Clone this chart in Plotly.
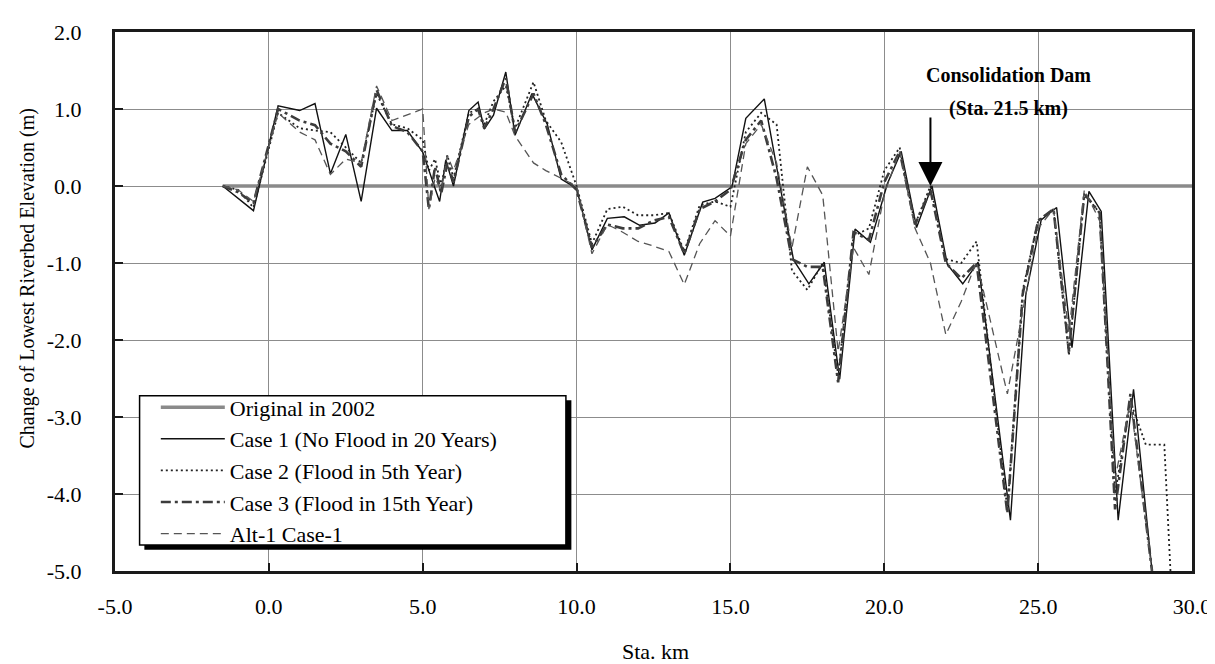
import plotly.graph_objects as go

# station (km) and change of lowest riverbed elevation (m)
orig_x = [-1.5, 30.0]
orig_y = [0.0, 0.0]

case1_x = [-1.5, -0.5, 0.3, 1.0, 1.5, 2.0, 2.5, 3.0, 3.5, 4.0, 4.5, 5.0, 5.4, 5.55, 5.75, 6.0,
           6.5, 6.8, 7.0, 7.3, 7.7, 8.0, 8.55, 9.05, 9.5, 10.0, 10.5, 11.0, 11.55, 12.05, 12.55,
           13.0, 13.5, 14.1, 14.5, 15.05, 15.5, 16.1, 17.05, 17.55, 18.05, 18.55, 19.05, 19.55,
           20.1, 20.55, 21.05, 21.55, 22.05, 22.55, 23.05, 24.1, 24.6, 25.1, 25.6, 26.1, 26.65,
           27.05, 27.6, 28.1, 28.7]
case1_y = [0.0, -0.32, 1.04, 0.98, 1.07, 0.16, 0.67, -0.20, 1.01, 0.72, 0.72, 0.44, -0.03, -0.20,
           0.34, 0.0, 0.98, 1.09, 0.74, 0.92, 1.48, 0.66, 1.20, 0.80, 0.09, -0.03, -0.83, -0.42,
           -0.40, -0.51, -0.48, -0.35, -0.90, -0.21, -0.16, -0.01, 0.88, 1.13, -0.96, -1.27, -0.99,
           -2.51, -0.56, -0.73, 0.03, 0.45, -0.54, 0.0, -1.02, -1.27, -0.99, -4.34, -1.41, -0.44,
           -0.28, -2.10, -0.07, -0.33, -4.34, -2.64, -5.0]

case2_x = [-1.5, -1.0, -0.5, 0.3, 1.0, 1.5, 2.0, 2.5, 3.0, 3.5, 4.0, 4.5, 5.0, 5.2, 5.4, 5.6, 5.8,
           6.0, 6.5, 6.8, 7.0, 7.3, 7.7, 8.0, 8.6, 9.0, 9.5, 10.0, 10.5, 11.0, 11.5, 12.0, 12.5,
           13.0, 13.5, 14.0, 14.5, 15.0, 15.5, 16.0, 16.5, 17.0, 17.5, 18.0, 18.5, 19.0, 19.5,
           20.0, 20.5, 21.0, 21.5, 22.0, 22.5, 23.0, 24.0, 24.5, 25.0, 25.5, 26.0, 26.5, 27.0,
           27.5, 28.0, 28.5, 29.1, 29.3]
case2_y = [0.0, -0.05, -0.28, 0.95, 0.75, 0.72, 0.70, 0.50, 0.30, 1.20, 0.80, 0.75, 0.60, 0.20,
           0.35, 0.0, 0.40, 0.10, 0.95, 1.00, 0.80, 1.10, 1.30, 0.75, 1.35, 0.85, 0.57, 0.0, -0.75,
           -0.30, -0.27, -0.38, -0.38, -0.35, -0.85, -0.25, -0.20, -0.27, 0.70, 0.95, 0.80, -1.10,
           -1.35, -1.00, -2.45, -0.65, -0.55, 0.20, 0.50, -0.50, 0.0, -0.95, -1.00, -0.72, -4.20,
           -1.35, -0.45, -0.30, -2.20, -0.10, -0.35, -4.00, -2.80, -3.36, -3.36, -5.0]

case3_x = [-1.5, -1.0, -0.5, 0.3, 1.0, 1.5, 2.0, 2.5, 3.0, 3.5, 4.0, 4.5, 5.0, 5.2, 5.4, 5.6, 5.8,
           6.0, 6.5, 6.8, 7.0, 7.3, 7.7, 8.0, 8.6, 9.0, 9.5, 10.0, 10.5, 11.0, 11.5, 12.0, 12.5,
           13.0, 13.5, 14.0, 14.5, 15.0, 15.5, 16.0, 16.5, 17.0, 17.5, 18.0, 18.5, 19.0, 19.5,
           20.0, 20.5, 21.0, 21.5, 22.0, 22.5, 23.0, 24.0, 24.5, 25.0, 25.5, 26.0, 26.5, 27.0,
           27.5, 28.0, 28.7]
case3_y = [0.0, -0.08, -0.22, 1.00, 0.85, 0.79, 0.55, 0.45, 0.25, 1.25, 0.78, 0.70, 0.45, -0.30,
           0.25, -0.10, 0.30, 0.05, 0.90, 1.00, 0.75, 1.00, 1.40, 0.70, 1.20, 0.80, 0.15, -0.05,
           -0.80, -0.50, -0.55, -0.55, -0.45, -0.40, -0.88, -0.30, -0.20, -0.05, 0.60, 0.85, 0.10,
           -0.95, -1.05, -1.05, -2.55, -0.60, -0.70, 0.05, 0.45, -0.50, -0.05, -1.00, -1.20, -1.00,
           -4.25, -1.40, -0.45, -0.30, -2.15, -0.10, -0.35, -4.20, -2.70, -5.0]

alt1_x = [-1.5, -1.0, -0.5, 0.3, 1.0, 1.5, 2.0, 2.5, 3.0, 3.5, 4.0, 5.0, 5.2, 5.4, 5.6, 5.8, 6.0,
          6.5, 7.0, 7.3, 7.7, 8.0, 8.6, 9.0, 9.5, 10.0, 10.5, 11.0, 11.5, 12.0, 12.5, 13.0, 13.5,
          14.0, 14.5, 15.0, 15.5, 16.0, 16.5, 17.0, 17.5, 18.0, 18.5, 19.0, 19.5, 20.0, 20.5,
          21.0, 21.5, 22.0, 22.5, 23.0, 24.0, 24.5, 25.0, 25.5, 26.0, 26.5, 27.0, 27.5, 28.0, 28.7]
alt1_y = [0.0, -0.05, -0.20, 0.95, 0.70, 0.60, 0.15, 0.35, 0.30, 1.30, 0.85, 1.00, -0.30, 0.10,
          -0.05, 0.40, 0.20, 0.80, 0.95, 1.00, 0.96, 0.65, 0.30, 0.20, 0.10, 0.0, -0.88, -0.50,
          -0.60, -0.72, -0.78, -0.85, -1.28, -0.75, -0.45, -0.65, 0.55, 0.80, 0.30, -0.80, 0.25,
          -0.12, -2.15, -0.80, -1.15, -0.10, 0.45, -0.55, -1.00, -1.93, -1.50, -0.98, -2.70, -1.60,
          -0.55, -0.30, -1.90, -0.05, -0.45, -3.80, -2.80, -5.0]

x_ticks = [-5, 0, 5, 10, 15, 20, 25, 30]
x_labels = ["-5.0", "0.0", "5.0", "10.0", "15.0", "20.0", "25.0", "30.0"]
y_ticks = [-5, -4, -3, -2, -1, 0, 1, 2]
y_labels = ["-5.0", "-4.0", "-3.0", "-2.0", "-1.0", "0.0", "1.0", "2.0"]

W, H = 1215, 664
ML, MR, MT, MB = 107, 26, 20, 101
PW, PH = W - ML - MR, H - MT - MB


def px(x):
    return (x - ML) / PW


def py(y):
    return (H - MB - y) / PH


SERIF = "Liberation Serif, Times New Roman, serif"

fig = go.Figure()
fig.add_trace(go.Scatter(x=orig_x, y=orig_y, mode="lines", name="Original in 2002",
                         line=dict(color="#8a8a8a", width=3.5)))
fig.add_trace(go.Scatter(x=case1_x, y=case1_y, mode="lines", name="Case 1 (No Flood in 20 Years)",
                         line=dict(color="#111111", width=1.4)))
fig.add_trace(go.Scatter(x=case2_x, y=case2_y, mode="lines", name="Case 2 (Flood in 5th Year)",
                         line=dict(color="#222222", width=1.8, dash="2px,3px")))
fig.add_trace(go.Scatter(x=case3_x, y=case3_y, mode="lines", name="Case 3 (Flood in 15th Year)",
                         line=dict(color="#3c3c3c", width=2.6, dash="10px,4px,3px,4px")))
fig.add_trace(go.Scatter(x=alt1_x, y=alt1_y, mode="lines", name="Alt-1 Case-1",
                         line=dict(color="#555555", width=1.3, dash="8px,5px")))

fig.update_layout(
    width=W, height=H,
    margin=dict(l=ML, r=MR, t=MT, b=MB),
    paper_bgcolor="white", plot_bgcolor="white",
    font=dict(family=SERIF, size=22, color="black"),
    showlegend=True,
    legend=dict(x=px(148), y=py(377), xanchor="left", yanchor="top",
                bgcolor="rgba(0,0,0,0)", borderwidth=0,
                font=dict(family=SERIF, size=22), itemwidth=64, tracegroupgap=0),
)

fig.update_xaxes(range=[-5, 30], tickvals=x_ticks, ticktext=x_labels,
                 showgrid=True, gridcolor="#8c8c8c", gridwidth=1, zeroline=False,
                 showline=True, linecolor="#1a1a1a", linewidth=3, mirror=True,
                 ticks="inside", ticklen=8, tickwidth=1.5, tickcolor="#1a1a1a",
                 ticklabelstandoff=14, tickfont=dict(size=22))
fig.update_yaxes(range=[-5, 2], tickvals=y_ticks, ticktext=y_labels,
                 showgrid=True, gridcolor="#8c8c8c", gridwidth=1, zeroline=False,
                 showline=True, linecolor="#1a1a1a", linewidth=3, mirror=True,
                 ticks="inside", ticklen=8, tickwidth=1.5, tickcolor="#1a1a1a",
                 ticklabelstandoff=26, tickfont=dict(size=22))

# legend frame with a drop shadow
fig.add_shape(type="rect", xref="paper", yref="paper",
              x0=px(136.5), x1=px(565.5), y0=py(541.7), y1=py(391),
              fillcolor="black", line=dict(width=0), layer="above")
fig.add_shape(type="rect", xref="paper", yref="paper",
              x0=px(131.7), x1=px(560), y0=py(536.7), y1=py(386.5),
              fillcolor="white", line=dict(color="black", width=1.5), layer="above")

# axis titles
fig.add_annotation(text="Change of Lowest Riverbed Elevation (m)", textangle=-90,
                   xref="paper", yref="paper", x=px(19), y=py(268),
                   xanchor="center", yanchor="middle",
                   showarrow=False, font=dict(size=20))
fig.add_annotation(text="Sta. km", xref="paper", yref="paper", x=px(650), y=py(644),
                   xanchor="center", yanchor="middle",
                   showarrow=False, font=dict(size=22))

# consolidation dam marker
fig.add_annotation(x=21.5, y=0, ax=0, ay=-70, xref="x", yref="y", text="",
                   showarrow=True, arrowhead=2, arrowsize=2.4, arrowwidth=2,
                   arrowcolor="black")
fig.add_annotation(text="<b>Consolidation Dam</b>", xref="paper", yref="paper",
                   x=px(1005), y=py(63), xanchor="center", yanchor="middle",
                   showarrow=False, font=dict(size=20))
fig.add_annotation(text="<b>(Sta. 21.5 km)</b>", xref="paper", yref="paper",
                   x=px(1005), y=py(97), xanchor="center", yanchor="middle",
                   showarrow=False, font=dict(size=20))

fig.write_html("out.html")
